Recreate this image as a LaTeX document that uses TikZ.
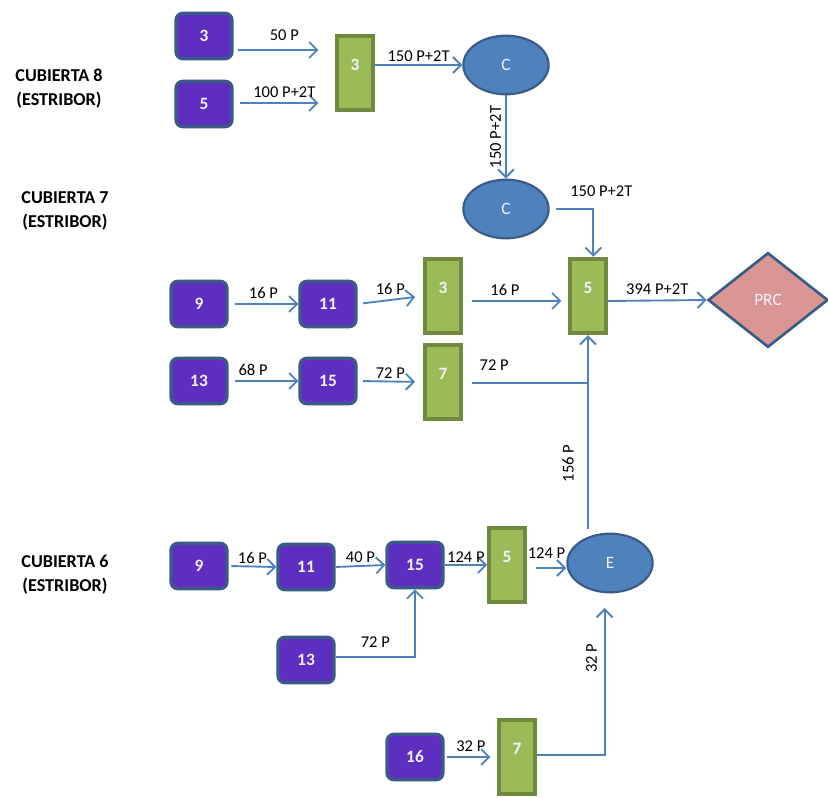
\documentclass[tikz,border=0pt]{standalone}
\usepackage{fontspec}
\setmainfont{Carlito}
\usetikzlibrary{arrows.meta,positioning,shapes.geometric}

\definecolor{morado}{HTML}{5E2EC0}
\definecolor{bordeazul}{HTML}{3B5B86}
\definecolor{verde}{HTML}{9BBB59}
\definecolor{oliva}{HTML}{71893F}
\definecolor{azul}{HTML}{4F81BD}
\definecolor{rosa}{HTML}{D99694}
\definecolor{blanco}{HTML}{F4F0FF}

\tikzset{
  pieza/.style={rectangle, rounded corners=5pt, fill=morado, draw=bordeazul, line width=2.4pt,
    minimum width=42pt, minimum height=34pt, text=blanco,
    font=\fontsize{13}{15}\selectfont\bfseries},
  banda/.style={rectangle, fill=verde, draw=oliva, line width=2.8pt,
    minimum width=27pt, minimum height=56pt, text=blanco, text depth=12pt,
    font=\fontsize{13}{15}\selectfont\bfseries},
  ciclon/.style={ellipse, fill=azul, draw=bordeazul, line width=1.6pt,
    minimum width=64pt, minimum height=44pt, inner sep=0pt, text=blanco,
    font=\fontsize{13}{15}\selectfont},
  flecha/.style={draw=azul, line width=1.4pt, -{Straight Barb[length=6pt,width=12pt]}},
  linea/.style={draw=azul, line width=1.4pt},
  etiq/.style={font=\fontsize{12.4}{14}\selectfont, inner sep=1.5pt},
  cubierta/.style={font=\fontsize{13.6}{18}\selectfont\bfseries, align=center}
}

\begin{document}
\begin{tikzpicture}[x=0.75pt, y=-0.75pt, font=\fontsize{12.4}{14}\selectfont]
    \useasboundingbox (0,0) rectangle (828,798);

    % cubierta 8
    \node[cubierta] (cub8) at (59,89) {CUBIERTA 8\\(ESTRIBOR)};
    \node[pieza] (p3) at (204,36) {3};
    \node[pieza] (p5) at (204,104) {5};
    \node[banda] (b3) at (355,73) {3};
    \node[ciclon] (c8) at (506,65) {C};

    \draw[flecha, shorten <=3pt, shorten >=12.5pt] (p3.east |- 0,50) -- (b3.west |- 0,50)
        node[etiq, midway, above=5pt] {50 P};
    \draw[flecha, shorten <=5pt, shorten >=12.5pt] (p5.east |- 0,103) -- (b3.west |- 0,103)
        node[etiq, midway, above=2pt] {100 P+2T};
    \draw[flecha] (b3.east |- 0,65) -- (c8.west)
        node[etiq, midway, above=0pt] {150 P+2T};

    % cubierta 7
    \node[cubierta] (cub7) at (65,211) {CUBIERTA 7\\(ESTRIBOR)};
    \node[ciclon] (c7) at (506,209) {C};
    \node[banda] (b5) at (588,296) {5};
    \node[diamond, fill=rosa, draw=bordeazul, line width=2pt, minimum width=90pt,
        minimum height=71pt, inner sep=0pt, text=blanco,
        font=\fontsize{13}{15}\selectfont] (prc) at (768,300) {PRC};

    \draw[flecha] (c8.south) -- (c7.north)
        node[etiq, midway, rotate=90, anchor=south, inner sep=3pt] {150 P+2T};
    \draw[flecha, shorten <=5pt] (c7.east) -| ([xshift=4pt]b5.north)
        node[etiq, pos=0.5, above=7pt, xshift=6pt] {150 P+2T};
    \draw[flecha] (b5.east |- 0,301) -- (prc.west)
        node[etiq, midway, above=2pt] {394 P+2T};

    \node[pieza] (p9) at (199,304) {9};
    \node[pieza] (p11) at (328,304) {11};
    \node[banda] (b3b) at (443,296) {3};
    \node[pieza] (p13) at (199,381) {13};
    \node[pieza] (p15) at (328,381) {15};
    \node[banda] (b7) at (443,382) {7};
    \coordinate (junta) at (588,383);

    \draw[flecha, shorten <=5pt] (p9.east) -- (p11.west)
        node[etiq, midway, above=2pt] {16 P};
    \draw[flecha, shorten <=4pt, shorten >=6pt] (p11.east) -- (b3b.west)
        node[etiq, midway, above=2pt] {16 P};
    \draw[flecha, shorten <=7pt, shorten >=5pt] (b3b.east |- 0,301) -- (b5.west |- 0,301)
        node[etiq, pos=0.4, above=2pt] {16 P};
    \draw[flecha, shorten <=5pt] (p13.east) -- (p15.west)
        node[etiq, pos=0.35, above=2pt] {68 P};
    \draw[flecha, shorten <=4pt, shorten >=6pt] (p15.east) -- (b7.west)
        node[etiq, midway, above=0pt] {72 P};
    \draw[linea, shorten <=7pt] (b7.east |- junta) -- (junta)
        node[etiq, pos=0.25, above=7pt] {72 P};

    % cubierta 6
    \node[cubierta] (cub6) at (65,575) {CUBIERTA 6\\(ESTRIBOR)};
    \node[pieza] (q9) at (199,566) {9};
    \node[pieza] (q11) at (306,567) {11};
    \node[pieza] (q15) at (415,565) {15};
    \node[banda] (q5) at (507,565) {5};
    \node[ciclon] (e) at (610,563) {E};
    \node[pieza] (q13) at (306,660) {13};
    \node[pieza] (q16) at (415,757) {16};
    \node[banda] (q7) at (517,757) {7};

    \draw[flecha, shorten <=3pt] (e.north -| b5.south) -- (b5.south)
        node[etiq, pos=0.35, rotate=90, anchor=south, inner sep=10pt] {156 P};
    \draw[flecha, shorten <=2pt] (q9.east) -- (q11.west)
        node[etiq, midway, above=0pt] {16 P};
    \draw[flecha] (q11.east) -- (q15.west)
        node[etiq, midway, above=0pt] {40 P};
    \draw[flecha] (q15.east) -- (q5.west)
        node[etiq, midway, above=0pt] {124 P};
    \draw[flecha, shorten <=7pt] (q5.east |- 0,568) -- (e.west |- 0,568)
        node[etiq, midway, above=5pt] {124 P};
    \draw[flecha] (q13.east |- 0,657) -| (q15.south)
        node[etiq, pos=0.25, above=5pt] {72 P};
    \draw[flecha, shorten <=2pt, shorten >=5pt] (q16.east) -- (q7.west)
        node[etiq, midway, above=2pt] {32 P};
    \draw[flecha, shorten >=11pt] (q7.east |- 0,755) -| ([xshift=-4pt]e.south)
        node[etiq, pos=0.8, rotate=90, anchor=south, inner sep=5pt] {32 P};
\end{tikzpicture}
\end{document}
